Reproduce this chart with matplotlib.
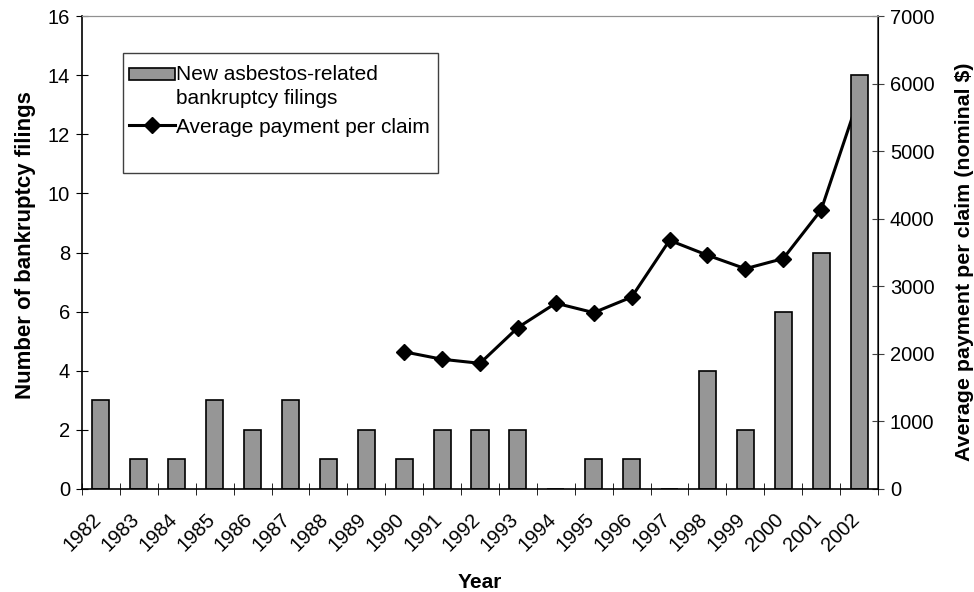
import matplotlib
matplotlib.use("Agg")
from matplotlib import pyplot as plt
from matplotlib.patches import Rectangle
from matplotlib.legend_handler import HandlerPatch
import numpy as np

plt.rcParams["font.family"] = ["Liberation Sans", "DejaVu Sans"]

years = [str(y) for y in range(1982, 2003)]
filings = [3, 1, 1, 3, 2, 3, 1, 2, 1, 2, 2, 2, 0, 1, 1, 0, 4, 2, 6, 8, 14]
payment_years = [str(y) for y in range(1990, 2003)]
payments = [2030, 1920, 1860, 2390, 2750, 2610, 2840, 3680, 3460, 3260, 3410, 4130, 5800]

W, H = 974, 592
fig = plt.figure(figsize=(W / 100, H / 100), dpi=100)
ax = fig.add_axes([82 / W, 1 - 489 / H, (878 - 82) / W, (489 - 16) / H])
ax2 = ax.twinx()

x = np.arange(len(years))
bars = ax.bar(x, filings, width=0.45, color="#969696", edgecolor="black",
              linewidth=1.2, zorder=2)

px = [years.index(y) for y in payment_years]
line, = ax2.plot(px, payments, color="black", linewidth=2.2, marker="D",
                 markersize=8, zorder=3)

ax.set_xlim(-0.5, len(years) - 0.5)
ax.set_ylim(0, 16)
ax.set_yticks(range(0, 17, 2))
ax2.set_ylim(0, 7000)
ax2.set_yticks(range(0, 7001, 1000))

# labels sit a little left of the bars, tick marks between categories
ax.set_xticks(x - 0.25)
ax.set_xticklabels(years, rotation=45, ha="right", va="top", rotation_mode="anchor")
ax.set_xticks(np.arange(-0.5, len(years)), minor=True)
ax.tick_params(axis="x", which="major", length=0, pad=15, labelsize=14.5)
ax.tick_params(axis="x", which="minor", direction="inout", length=9)
ax.tick_params(axis="y", direction="inout", length=9, labelsize=14.5, pad=4)
ax2.tick_params(axis="y", direction="inout", length=9, labelsize=14.5, pad=4,
                color="#404040")

for a in (ax, ax2):
    a.spines["top"].set_color("#909090")
    a.spines["top"].set_linewidth(0.8)
ax.spines["left"].set_linewidth(1.2)
ax.spines["bottom"].set_linewidth(1.2)
ax2.spines["right"].set_color("#404040")
ax2.spines["right"].set_linewidth(1.2)
ax2.spines["left"].set_visible(False)
ax2.spines["bottom"].set_visible(False)

ax.set_xlabel("Year", fontsize=15, fontweight="bold")
ax.xaxis.set_label_coords(0.5, (489 - 573) / 473)
ax.set_ylabel("Number of bankruptcy filings", fontsize=16, fontweight="bold")
ax.yaxis.set_label_coords((36 - 82) / 796, (489 - 245) / 473)
ax2.set_ylabel("Average payment per claim (nominal $)", fontsize=15.4,
               fontweight="bold")
ax2.yaxis.set_label_coords((955 - 82) / 796, 0.48)


def top_line_patch(legend, orig_handle, xdescent, ydescent, width, height, fontsize):
    # put the bar swatch next to the first line of the two-line label
    return Rectangle((-xdescent, -ydescent + 9 + height * 0.1), width, height * 0.85)


# legend box drawn separately (it has extra room at the bottom)
ax.add_patch(Rectangle((123 / W, 1 - 173 / H), 315 / W, 120 / H,
                       transform=fig.transFigure, facecolor="white",
                       edgecolor="#404040", linewidth=1.0, zorder=4,
                       clip_on=False))
bar_handle = bars.patches[0]
leg = ax.legend([bar_handle, line],
                ["New asbestos-related\nbankruptcy filings", "Average payment per claim"],
                loc="upper left", bbox_to_anchor=(129 / W, 1 - 65 / H),
                bbox_transform=fig.transFigure, fontsize=15, frameon=False,
                handlelength=2.2, handletextpad=0.05, borderpad=0,
                borderaxespad=0, labelspacing=0.45,
                handler_map={bar_handle: HandlerPatch(patch_func=top_line_patch)})
for t in leg.get_texts():
    t.set_linespacing(1.35)
leg.set_zorder(6)
ax.set_zorder(ax2.get_zorder() + 1)
ax.patch.set_visible(False)

fig.savefig("out.png", dpi=100)
